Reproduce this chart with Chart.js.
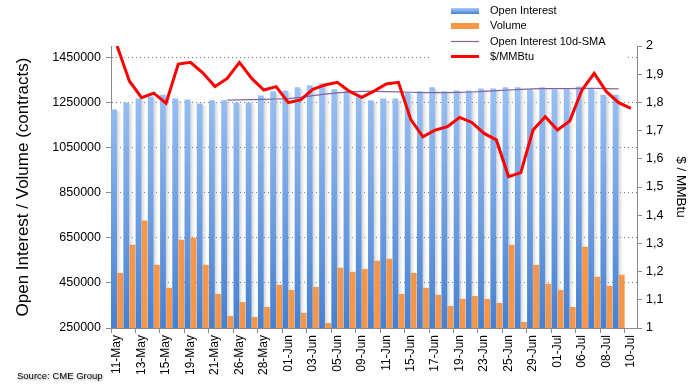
<!DOCTYPE html>
<html><head><meta charset="utf-8">
<script src="https://cdn.jsdelivr.net/npm/chart.js@4.4.1/dist/chart.umd.min.js"></script>
<style>html,body{margin:0;padding:0;background:#fff;}#wrap{width:696px;height:390px;}</style>
</head><body><div id="wrap"><canvas id="c" width="696" height="390"></canvas></div>
<script>
const categories = ["11-May","12-May","13-May","14-May","15-May","18-May","19-May","20-May","21-May","22-May",
  "26-May","27-May","28-May","29-May","01-Jun","02-Jun","03-Jun","04-Jun","05-Jun","08-Jun",
  "09-Jun","10-Jun","11-Jun","12-Jun","15-Jun","16-Jun","17-Jun","18-Jun","19-Jun","22-Jun",
  "23-Jun","24-Jun","25-Jun","26-Jun","29-Jun","30-Jun","01-Jul","02-Jul","06-Jul","07-Jul",
  "08-Jul","09-Jul","10-Jul"];
const openInterest = [1219000,1250000,1267000,1276000,1284000,1267000,1263000,1245000,1259000,1259000,
  1250000,1250000,1281000,1299000,1303000,1317000,1326000,1335000,1308000,1299000,
  1276000,1259000,1267000,1267000,1293000,1299000,1317000,1299000,1303000,1303000,
  1312000,1312000,1317000,1317000,1308000,1317000,1308000,1308000,1321000,1312000,
  1284000,1284000,null];
const volume = [494000,619000,726000,530000,428000,641000,650000,530000,401000,303000,
  365000,299000,343000,441000,419000,317000,432000,272000,517000,499000,
  512000,548000,557000,401000,494000,428000,397000,348000,379000,392000,
  379000,361000,619000,277000,530000,446000,419000,343000,610000,477000,
  437000,486000,null];
const oiSma10 = [null,null,null,null,null,null,null,null,null,1260000,
  1261000,1262000,1263000,1265000,1267000,1272000,1280000,1287000,1292000,1297000,
  1299000,1299000,1298000,1297000,1295000,1293000,1293000,1293000,1294000,1296000,
  1299000,1302000,1305000,1308000,1310000,1311000,1311000,1311000,1312000,1312000,
  1311000,1310000,null];
const price = [2.00,1.876,1.817,1.833,1.797,1.936,1.942,1.905,1.856,1.885,
  1.942,1.885,1.844,1.856,1.799,1.809,1.846,1.862,1.871,1.839,
  1.818,1.840,1.865,1.871,1.740,1.678,1.702,1.714,1.747,1.729,
  1.690,1.667,1.537,1.551,1.702,1.749,1.702,1.734,1.844,1.903,
  1.838,1.799,1.779];
const leftTicks = [250000,450000,650000,850000,1050000,1250000,1450000];
const rightTicks = [1,1.1,1.2,1.3,1.4,1.5,1.6,1.7,1.8,1.9,2];
const legendLabels = ["Open Interest","Volume","Open Interest 10d-SMA","$/MMBtu"];

const FONT = "'Liberation Sans', Arial, sans-serif";
const AXIS = '#8a8a8a';

function blueGrad(ctx, area){
  const g = ctx.createLinearGradient(0, area.top, 0, area.bottom);
  g.addColorStop(0, '#a9ccfa');
  g.addColorStop(1, '#4680d1');
  return g;
}

const shadowPlugin = {
  id: 'barShadow',
  beforeDatasetsDraw(chart){
    const ctx = chart.ctx, a = chart.chartArea;
    ctx.save();
    ctx.beginPath(); ctx.rect(a.left, a.top, a.right - a.left, a.bottom - a.top); ctx.clip();
    const meta = chart.getDatasetMeta(0);
    meta.data.forEach(el => {
      if (el.skip || el.y == null || isNaN(el.y)) return;
      const x0 = el.x + el.width / 2;
      const g = ctx.createLinearGradient(x0, 0, x0 + 6, 0);
      g.addColorStop(0, 'rgba(120,120,120,0.35)');
      g.addColorStop(1, 'rgba(255,255,255,0)');
      ctx.fillStyle = g;
      ctx.fillRect(x0, el.y + 2, 6, el.base - el.y - 2);
    });
    ctx.restore();
  }
};

const legendPlugin = {
  id: 'customLegend',
  afterDraw(chart){
    const ctx = chart.ctx;
    ctx.save();
    ctx.fillStyle = '#fff';
    ctx.fillRect(432, 0, 195, 64);
    const rows = [11, 26, 41.5, 56.5];
    const sx = 451, sw = 28, tx = 490;
    let g = ctx.createLinearGradient(0, rows[0]-3, 0, rows[0]+3);
    g.addColorStop(0, '#a9ccfa'); g.addColorStop(1, '#4680d1');
    ctx.fillStyle = g; ctx.fillRect(sx, rows[0]-3, sw, 6);
    ctx.fillStyle = '#f79646'; ctx.fillRect(sx, rows[1]-3, sw, 6);
    ctx.strokeStyle = '#8064a2'; ctx.lineWidth = 1.2;
    ctx.beginPath(); ctx.moveTo(sx, rows[2]); ctx.lineTo(sx+sw, rows[2]); ctx.stroke();
    ctx.strokeStyle = '#ff0000'; ctx.lineWidth = 3;
    ctx.beginPath(); ctx.moveTo(sx, rows[3]); ctx.lineTo(sx+sw, rows[3]); ctx.stroke();
    ctx.fillStyle = '#000'; ctx.font = "11px " + FONT; ctx.textBaseline = 'middle'; ctx.textAlign = 'left';
    legendLabels.forEach((t, i) => ctx.fillText(t, tx, rows[i]));
    ctx.font = "9.5px " + FONT;
    ctx.shadowColor = 'rgba(0,0,0,0.35)'; ctx.shadowBlur = 2; ctx.shadowOffsetX = 1; ctx.shadowOffsetY = 1;
    ctx.textBaseline = 'alphabetic';
    ctx.fillText("Source: CME Group", 17, 379);
    ctx.restore();
  }
};

new Chart(document.getElementById('c'), {
  type: 'bar',
  data: {
    labels: categories,
    datasets: [
      { label: legendLabels[0], data: openInterest, yAxisID: 'y', order: 0,
        backgroundColor: (c) => c.chart.chartArea ? blueGrad(c.chart.ctx, c.chart.chartArea) : '#7aa6e6',
        categoryPercentage: 1.0, barPercentage: 0.95 },
      { label: legendLabels[1], data: volume, yAxisID: 'y', order: 0,
        backgroundColor: '#f79646', categoryPercentage: 1.0, barPercentage: 0.95 },
      { type: 'line', label: legendLabels[2], data: oiSma10, yAxisID: 'y', order: -1,
        borderColor: '#8064a2', borderWidth: 1.2, pointRadius: 0, tension: 0, spanGaps: false },
      { type: 'line', label: legendLabels[3], data: price, yAxisID: 'y1', order: -2,
        borderColor: '#ff0000', borderWidth: 3, pointRadius: 0, tension: 0 }
    ]
  },
  options: {
    responsive: false, animation: false,
    layout: { padding: { top: 46, left: 0, right: 0, bottom: 0 } },
    plugins: { legend: { display: false }, tooltip: { enabled: false } },
    scales: {
      x: {
        offset: true,
        grid: { offset: true, drawOnChartArea: false, tickLength: 5,
          color: (c) => (c.index % 2 === 0 ? AXIS : 'rgba(0,0,0,0)') },
        border: { color: AXIS, width: 1 },
        ticks: { autoSkip: false, minRotation: 90, maxRotation: 90, padding: 2, color: '#000',
          font: { family: FONT, size: 12 },
          callback: function(v, i){ return i % 2 === 0 ? categories[i] : ''; } },
        afterFit: (s) => { s.height = 62; }
      },
      y: {
        position: 'left', min: 250000, max: 1500000,
        afterBuildTicks: (s) => { s.ticks = leftTicks.map(v => ({ value: v })); },
        grid: { color: '#7a7a7a', lineWidth: 1, tickLength: 5, tickColor: AXIS, tickBorderDash: [] },
        border: { color: AXIS, width: 1, dash: [1, 3] },
        ticks: { color: '#000', padding: 5, font: { family: FONT, size: 12.5 }, callback: (v) => String(v) },
        title: { display: true, text: 'Open Interest / Volume (contracts)', color: '#000',
          font: { family: FONT, size: 17 }, padding: { top: 13, bottom: 0 } },
        afterFit: (s) => { s.width = 111; }
      },
      y1: {
        position: 'right', min: 1, max: 2,
        afterBuildTicks: (s) => { s.ticks = rightTicks.map(v => ({ value: v })); },
        grid: { drawOnChartArea: false, tickLength: 5, color: AXIS },
        border: { color: AXIS, width: 1 },
        ticks: { color: '#000', padding: 4, font: { family: FONT, size: 12.5 },
          callback: (v) => { const r = Math.round(v * 10) / 10; return Number.isInteger(r) ? String(r) : r.toFixed(1).replace('.', ','); } },
        title: { display: true, text: '$ / MMBtu', color: '#000',
          font: { family: FONT, size: 13.5 }, padding: { top: 7, bottom: 0 } },
        afterFit: (s) => { s.width = 59; }
      }
    }
  },
  plugins: [shadowPlugin, legendPlugin]
});
</script>
</body></html>
